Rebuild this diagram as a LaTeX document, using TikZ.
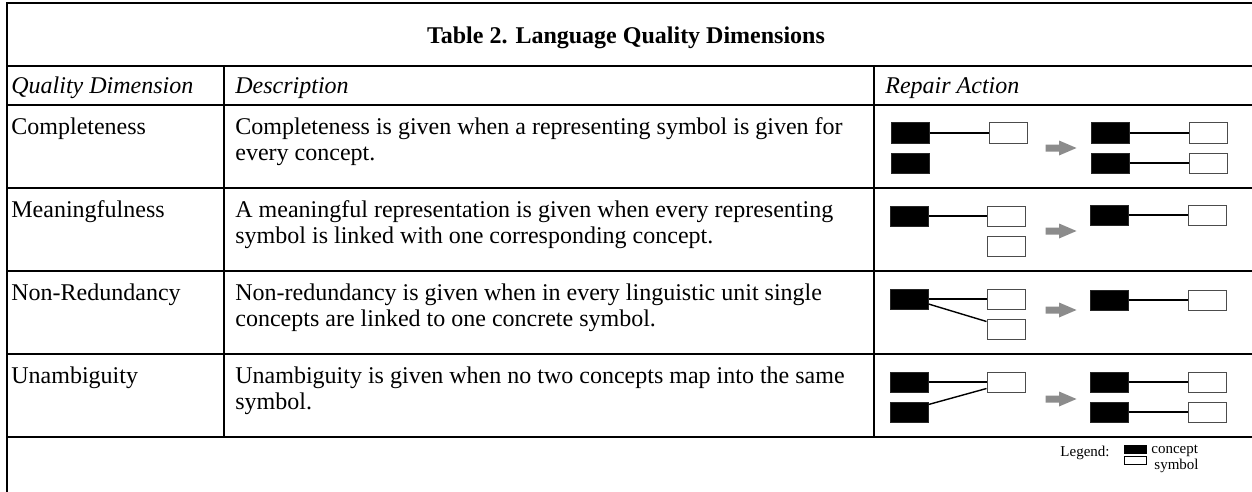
\documentclass[tikz,border=0pt]{standalone}
\usepackage{fontspec}
\setmainfont{Liberation Serif}
\begin{document}
\begin{tikzpicture}[x=0.5pt,y=-0.5pt,
  rule/.style={line width=1pt,black},
  txt/.style={inner sep=0pt,anchor=base west,font=\fontsize{12pt}{13pt}\selectfont},
  hdr/.style={txt,font=\fontsize{12pt}{13pt}\selectfont\itshape},
  legtxt/.style={inner sep=0pt,font=\fontsize{7.5pt}{5.8pt}\selectfont},
  concept/.style={draw=black!85,fill=black,line width=0.5pt,inner sep=0pt,minimum width=19pt,minimum height=10pt},
  symbol/.style={draw=black!70,fill=white,line width=0.5pt,inner sep=0pt,minimum width=19pt,minimum height=10pt},
  link/.style={line width=0.7pt,black},
  repair/.style={fill=black!45,draw=none},
  legbox/.style={line width=0.5pt,inner sep=0pt,minimum width=11pt,minimum height=4pt}]
\useasboundingbox (0,0) rectangle (1252,492);

% table rules
\draw[rule] (1252,3) -- (7,3) -- (7,492);
\foreach \y in {66,105,188,271,354,437} \draw[rule] (7,\y) -- (1252,\y);
\foreach \x in {224,874} \draw[rule] (\x,66) -- (\x,437);

% title and column heads
\node[inner sep=0pt,anchor=base,font=\fontsize{12pt}{14pt}\selectfont\bfseries] (title) at (626,44) {Table 2. Language Quality Dimensions};
\node[hdr] (h1) at (11,94) {Quality Dimension};
\node[hdr] (h2) at (235,94) {Description};
\node[hdr] (h3) at (885,94) {Repair Action};

% dimension names and descriptions
\node[txt] (n1) at (11,134) {Completeness};
\node[txt] (d1a) at (235,134) {Completeness is given when a representing symbol is given for};
\node[txt] (d1b) at (235,160) {every concept.};
\node[txt] (n2) at (11,217) {Meaningfulness};
\node[txt] (d2a) at (235,217) {A meaningful representation is given when every representing};
\node[txt] (d2b) at (235,243) {symbol is linked with one corresponding concept.};
\node[txt] (n3) at (11,300) {Non-Redundancy};
\node[txt] (d3a) at (235,300) {Non-redundancy is given when in every linguistic unit single};
\node[txt] (d3b) at (235,326) {concepts are linked to one concrete symbol.};
\node[txt] (n4) at (11,383) {Unambiguity};
\node[txt] (d4a) at (235,383) {Unambiguity is given when no two concepts map into the same};
\node[txt] (d4b) at (235,409) {symbol.};

% gray repair arrow centred on (#1,#2)
\newcommand{\repairarrow}[2]{%
  \fill[repair] (#1-15.5,#2-3.5) -- (#1-2,#2-3.5) -- (#1-2,#2-7.5) -- (#1+15.5,#2)
    -- (#1-2,#2+7.5) -- (#1-2,#2+3.5) -- (#1-15.5,#2+3.5) -- cycle;}

% Completeness
\node[concept] (c1a) at (910,133) {};
\node[symbol]  (s1a) at (1008,133) {};
\node[concept] (c1b) at (910,163) {};
\draw[link] (c1a.east) -- (s1a.west);
\repairarrow{1061}{148}
\node[concept] (c1c) at (1110,133) {};
\node[symbol]  (s1c) at (1208,133) {};
\node[concept] (c1d) at (1110,163) {};
\node[symbol]  (s1d) at (1208,163) {};
\draw[link] (c1c.east) -- (s1c.west);
\draw[link] (c1d.east) -- (s1d.west);

% Meaningfulness
\node[concept] (c2a) at (909,216) {};
\node[symbol]  (s2a) at (1006,216) {};
\node[symbol]  (s2b) at (1006,246) {};
\draw[link] (c2a.east) -- (s2a.west);
\repairarrow{1061}{231}
\node[concept] (c2c) at (1109,215) {};
\node[symbol]  (s2c) at (1207,215) {};
\draw[link] (c2c.east) -- (s2c.west);

% Non-Redundancy
\node[concept] (c3a) at (909,299) {};
\node[symbol]  (s3a) at (1006,299) {};
\node[symbol]  (s3b) at (1006,329) {};
\draw[link] (c3a.east) -- (s3a.west);
\draw[link] ([yshift=-2.5pt]c3a.east) -- ([yshift=-1.5pt]s3b.north west);
\repairarrow{1061}{310}
\node[concept] (c3c) at (1109,300) {};
\node[symbol]  (s3c) at (1207,300) {};
\draw[link] (c3c.east) -- (s3c.west);

% Unambiguity
\node[concept] (c4a) at (909,382) {};
\node[concept] (c4b) at (909,412) {};
\node[symbol]  (s4a) at (1006,382) {};
\draw[link] (c4a.east) -- (s4a.west);
\draw[link] ([yshift=-1.5pt]c4b.north east) -- ([yshift=2pt]s4a.south west);
\repairarrow{1061}{399}
\node[concept] (c4c) at (1109,382) {};
\node[symbol]  (s4c) at (1207,382) {};
\node[concept] (c4d) at (1109,412) {};
\node[symbol]  (s4d) at (1207,412) {};
\draw[link] (c4c.east) -- (s4c.west);
\draw[link] (c4d.east) -- (s4d.west);

% legend
\node[legtxt,anchor=base east] (leg) at (1110,456) {Legend:};
\node[legbox,draw=black,fill=black] (lc) at (1135,449) {};
\node[legbox,draw=black,fill=white] (ls) at (1135,460) {};
\node[legtxt,anchor=north west,align=left] (lkey) at (1151,445) {concept\\\hspace*{1.5pt}symbol};
\end{tikzpicture}
\end{document}
